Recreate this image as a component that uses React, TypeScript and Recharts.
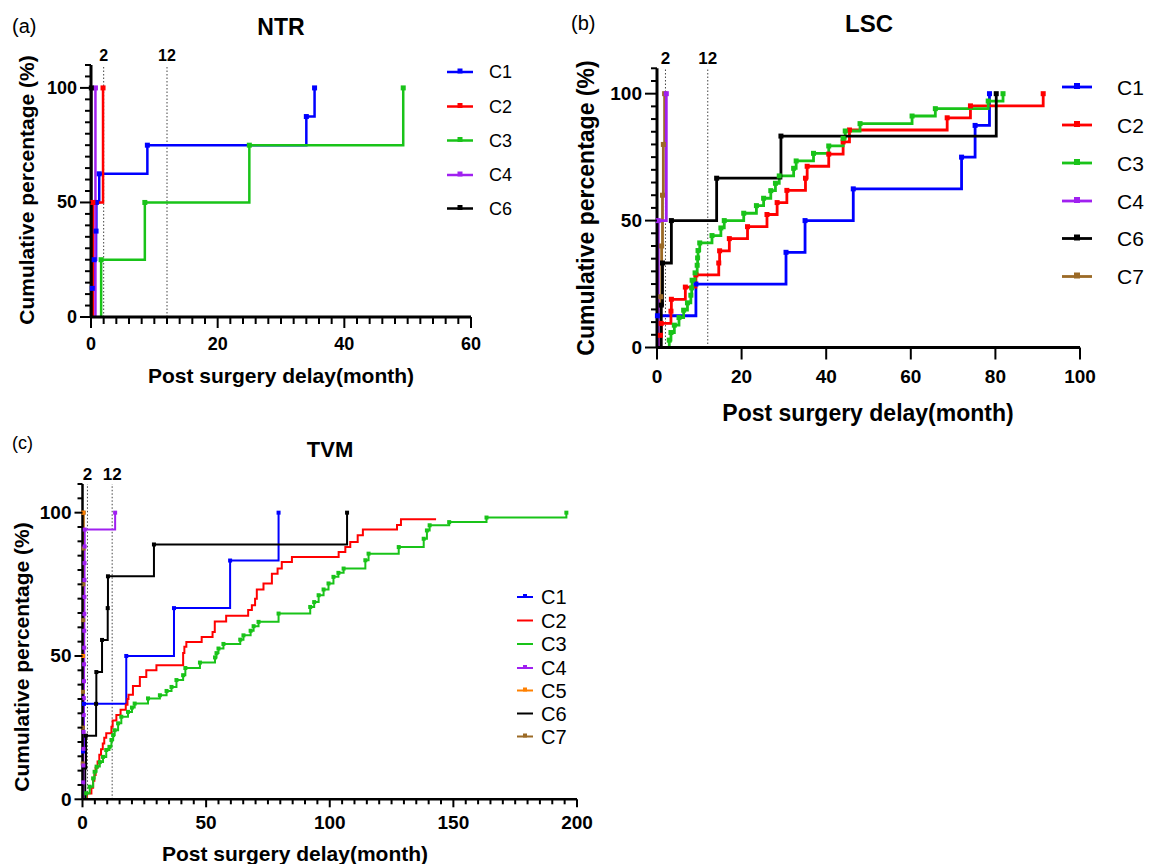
import React from "react";
import { LineChart, Line, XAxis, YAxis, ReferenceLine } from "recharts";

type Pt = [number, number];

const W = 1151;
const H = 864;
const FONT = "'Liberation Sans', Arial, Helvetica, sans-serif";

const BLUE = "#0000ff";
const RED = "#ff0000";
const GREEN = "#19c319";
const PURPLE = "#a020f0";
const ORANGE = "#ff8000";
const BLACK = "#000000";
const BROWN = "#9b6a26";

// (a) NTR  [month, cumulative %]
const ntrC1: Pt[] = [[0.2, 0], [0.2, 12.5], [0.5, 25], [0.8, 37.5], [0.85, 50], [1.3, 62.5], [8.9, 75], [34, 87.5], [35.3, 100]];
const ntrC2: Pt[] = [[0.3, 0], [0.3, 50], [1.9, 100]];
const ntrC3: Pt[] = [[1.6, 0], [1.6, 25], [8.5, 50], [25, 75], [49.3, 100]];
const ntrC4: Pt[] = [[0.7, 0], [0.7, 100]];
const ntrC6: Pt[] = [[0.05, 0], [0.05, 100]];

// (b) LSC
const lscC1: Pt[] = [[0.1, 0], [0.1, 12.5], [9.2, 25], [30.5, 37.5], [35, 50], [46.4, 62.5], [72, 75], [75.2, 87.5], [78.6, 100]];
const lscC2: Pt[] = [
  [0.8, 0], [0.8, 4.8], [1, 9.5], [3.3, 14.3], [3.4, 19], [6.7, 23.8], [9.2, 28.6], [14.6, 33.3], [14.8, 38.1],
  [17.1, 42.9], [21.4, 47.6], [26, 52.4], [28.4, 57.1], [30.7, 61.9], [35.1, 66.7], [35.5, 71.4], [40.6, 76.2],
  [44, 81], [45.5, 85.7], [68.6, 90.5], [74.1, 95.2], [91.3, 100],
];
const lscC3: Pt[] = [
  [2.9, 0], [2.9, 2.9], [3.3, 5.9], [4.1, 8.8], [5.2, 11.8], [6.3, 14.7], [7.2, 17.6], [8, 20.6], [8.2, 23.5],
  [8.3, 26.5], [9, 29.4], [9.5, 32.4], [9.6, 35.3], [9.7, 38.2], [10.1, 41.2], [13, 44.1], [15.1, 47.1], [15.9, 50],
  [20.5, 52.9], [23.5, 55.9], [25.2, 58.8], [26.9, 61.8], [28, 64.7], [28.9, 67.6], [32.3, 70.6], [32.9, 73.5],
  [37, 76.5], [40.6, 79.4], [44, 82.4], [44.5, 85.3], [48, 88.2], [60.3, 91.2], [65.8, 94.1], [78.3, 97.1], [81.8, 100],
];
const lscC4: Pt[] = [[0.3, 0], [0.3, 50], [2.2, 100]];
const lscC6: Pt[] = [[1, 0], [1, 16.7], [1.3, 33.3], [3.4, 50], [14.1, 66.7], [29.3, 83.3], [80.2, 100]];
const lscC7: Pt[] = [[0.9, 0], [0.9, 20], [1.1, 40], [1.3, 60], [1.5, 80], [1.8, 100]];

// (c) TVM
const tvmC1: Pt[] = [[0.2, 0], [0.2, 16.7], [0.6, 33.3], [17.7, 50], [37, 66.7], [59.7, 83.3], [79.3, 100]];
const tvmC2: Pt[] = [
  [1.8, 0], [1.8, 2], [3.6, 4], [4.3, 6.5], [4.8, 8.5], [5.3, 11], [6.1, 13.2], [6.8, 15.5], [7.5, 17.5], [8.2, 19.5],
  [8.8, 21.5], [9.6, 23], [11.7, 25.3], [12.2, 27.5], [13.7, 29.4], [15.4, 31.2], [17.5, 33], [18.2, 35], [18.6, 36.5],
  [20.4, 39.5], [23.2, 42.7], [25.8, 45], [29.9, 46.8], [40.7, 51], [41.2, 53.2], [42, 54.9], [48.2, 56.6],
  [52.6, 58.4], [53.5, 62], [58.1, 64], [67, 66], [68.5, 67.7], [69.8, 70], [70.5, 73.2], [73.2, 75.3], [76.6, 78.7],
  [78.9, 80.5], [80.6, 82.8], [84.7, 84.5], [103.6, 86.3], [106.3, 88], [108.3, 89.8], [111.3, 92.1], [113.4, 94.1],
  [127.2, 95.7], [128.8, 97.7], [143, 97.7],
];
const tvmC3: Pt[] = [
  [1.5, 0], [1.5, 2.1], [2.9, 4.4], [4.3, 7.3], [4.9, 9.6], [5.7, 11.4], [7, 13], [8.3, 14.8], [9.6, 17.2],
  [10.9, 18.3], [11.7, 20.7], [12.4, 22.4], [13, 24.1], [14.4, 26.5], [15.7, 28.8], [18.4, 30.5], [20, 32],
  [21.1, 33.4], [26.5, 35.2], [31.3, 36.3], [34, 37.8], [36, 39.2], [38, 41.6], [40.7, 43.3], [41.6, 45.8],
  [47.5, 47.7], [53.6, 49.5], [54.2, 51], [55, 52.6], [57, 54.2], [63.8, 55.7], [65.1, 57.2], [68, 58.8],
  [69.2, 60.4], [71.2, 61.9], [79.3, 64.8], [92.1, 67.1], [93.7, 68.8], [95.5, 71.2], [97.5, 73.2], [99.5, 75.3],
  [101.5, 77.6], [103.5, 79], [105.6, 80.5], [114.4, 83.4], [115.7, 85.7], [127.9, 88], [138, 90.9], [139.3, 93.8],
  [140.4, 95.6], [148.3, 96.7], [163.4, 98.3], [195.7, 100],
];
const tvmC4: Pt[] = [
  [0.3, 0], [0.3, 5.9], [0.35, 11.8], [0.4, 17.6], [0.45, 23.5], [0.5, 29.4], [0.55, 35.3], [0.6, 41.2], [0.65, 47.1],
  [0.7, 52.9], [0.72, 58.8], [0.75, 64.7], [0.78, 70.6], [0.8, 76.5], [0.83, 82.4], [0.86, 88.2], [0.9, 94.1], [13.2, 100],
];
const tvmC5: Pt[] = [[0.2, 0], [0.2, 50], [0.3, 100]];
const tvmC6: Pt[] = [[1.1, 0], [1.1, 11.1], [1.4, 22.2], [5.5, 33.3], [5.6, 44.4], [7.9, 55.6], [10.2, 66.7], [10.3, 77.8], [28.9, 88.9], [107, 100]];
const tvmC7: Pt[] = [[0.1, 0], [0.1, 12.5], [0.15, 25], [0.2, 37.5], [0.25, 50], [0.3, 62.5], [0.35, 75], [0.4, 87.5], [0.5, 100]];

const yMajor = [0, 50, 100];
const refMonths = [2, 12];

type Series = { name: string; color: string; pts: Pt[]; marker: boolean };

const range = (a: number, b: number, s: number) => {
  const out: number[] = [];
  for (let v = a; v <= b + 1e-9; v += s) out.push(Math.round(v * 1000) / 1000);
  return out;
};
const rows = (pts: Pt[]) => pts.map(([x, y]) => ({ x, y }));

const squareDot = (color: string, size: number) => (p: any) => {
  if (p.index === 0 || p.cx == null) return <g key={`d${p.index}`} />;
  return <rect key={`d${p.index}`} x={p.cx - size / 2} y={p.cy - size / 2} width={size} height={size} fill={color} />;
};

const xTick = (majors: number[], fs: number, majorLen: number, minorLen: number, off: number) => (p: any) => {
  const v = p.payload.value;
  const big = majors.includes(v);
  return (
    <g>
      <line x1={p.x} x2={p.x} y1={p.y} y2={p.y + (big ? majorLen : minorLen)} stroke="#000" strokeWidth={2} />
      {big && (
        <text x={p.x} y={p.y + off} textAnchor="middle" dominantBaseline="central" fontSize={fs} fontWeight="bold" fill="#000" fontFamily={FONT}>
          {v}
        </text>
      )}
    </g>
  );
};

const yTick = (majors: number[], fs: number, majorLen: number, minorLen: number, off: number) => (p: any) => {
  const v = p.payload.value;
  const big = majors.includes(v);
  return (
    <g>
      <line x1={p.x} x2={p.x - (big ? majorLen : minorLen)} y1={p.y} y2={p.y} stroke="#000" strokeWidth={2} />
      {big && (
        <text x={p.x - off} y={p.y} textAnchor="end" dominantBaseline="central" fontSize={fs} fontWeight="bold" fill="#000" fontFamily={FONT}>
          {v}
        </text>
      )}
    </g>
  );
};

type PanelCfg = {
  x0: number; x1: number; y0: number; yTop: number;
  xMax: number; xTicks: number[]; xMajor: number[];
  tickFs: number; refFs: number;
  xLen: [number, number]; yLen: [number, number];
  xOff: number; yOff: number;
  lineW: number; mark: number; axisW: number;
  series: Series[];
};

function Panel({ c }: { c: PanelCfg }) {
  const yw = 40;
  const xh = 30;
  const margin = { left: c.x0 - yw, right: W - c.x1, top: c.yTop, bottom: H - c.y0 - xh };
  return (
    <div style={{ position: "absolute", left: 0, top: 0 }}>
      <LineChart width={W} height={H} margin={margin}>
        <XAxis
          dataKey="x" type="number" domain={[0, c.xMax]} ticks={c.xTicks} interval={0} height={xh}
          tickSize={0} tickMargin={0} tickLine={false} axisLine={{ stroke: "#000", strokeWidth: c.axisW }}
          tick={xTick(c.xMajor, c.tickFs, c.xLen[0], c.xLen[1], c.xOff)}
        />
        <YAxis
          type="number" domain={[0, 110]} ticks={range(0, 110, 5)} interval={0} width={yw}
          tickSize={0} tickMargin={0} tickLine={false} axisLine={{ stroke: "#000", strokeWidth: c.axisW }}
          tick={yTick(yMajor, c.tickFs, c.yLen[0], c.yLen[1], c.yOff)}
        />
        {refMonths.map((m) => (
          <ReferenceLine
            key={m} x={m} stroke="#444" strokeWidth={1} strokeDasharray="1.5 2"
            label={{ value: String(m), position: "top", offset: 4, fill: "#000", fontSize: c.refFs, fontWeight: "bold", fontFamily: FONT }}
          />
        ))}
        {c.series.map((s) => (
          <Line
            key={s.name} name={s.name} data={rows(s.pts)} dataKey="y" type="stepAfter"
            stroke={s.color} strokeWidth={c.lineW} dot={s.marker ? squareDot(s.color, c.mark) : false}
            activeDot={false} isAnimationActive={false}
          />
        ))}
      </LineChart>
    </div>
  );
}

const panelA: PanelCfg = {
  x0: 91, x1: 471, y0: 317, yTop: 65, xMax: 60, xTicks: range(0, 60, 2), xMajor: [0, 20, 40, 60],
  tickFs: 18, refFs: 16, xLen: [11, 7], yLen: [11, 6], xOff: 27, yOff: 14, lineW: 2.5, mark: 5, axisW: 3,
  series: [
    { name: "C1", color: BLUE, pts: ntrC1, marker: true },
    { name: "C2", color: RED, pts: ntrC2, marker: true },
    { name: "C3", color: GREEN, pts: ntrC3, marker: true },
    { name: "C4", color: PURPLE, pts: ntrC4, marker: true },
    { name: "C6", color: BLACK, pts: ntrC6, marker: true },
  ],
};

const panelB: PanelCfg = {
  x0: 657, x1: 1080, y0: 347.5, yTop: 68.3, xMax: 100, xTicks: [0, 20, 40, 60, 80, 100], xMajor: [0, 20, 40, 60, 80, 100],
  tickFs: 19, refFs: 17, xLen: [12, 12], yLen: [12, 6], xOff: 29, yOff: 15, lineW: 2.8, mark: 5, axisW: 3,
  series: [
    { name: "C1", color: BLUE, pts: lscC1, marker: true },
    { name: "C2", color: RED, pts: lscC2, marker: true },
    { name: "C3", color: GREEN, pts: lscC3, marker: true },
    { name: "C7", color: BROWN, pts: lscC7, marker: true },
    { name: "C4", color: PURPLE, pts: lscC4, marker: true },
    { name: "C6", color: BLACK, pts: lscC6, marker: true },
  ],
};

const panelC: PanelCfg = {
  x0: 82.5, x1: 577, y0: 799.3, yTop: 484, xMax: 200, xTicks: range(0, 200, 5), xMajor: [0, 50, 100, 150, 200],
  tickFs: 19, refFs: 17, xLen: [8, 5], yLen: [8, 5], xOff: 23, yOff: 11, lineW: 2, mark: 4, axisW: 2.5,
  series: [
    { name: "C1", color: BLUE, pts: tvmC1, marker: true },
    { name: "C2", color: RED, pts: tvmC2, marker: false },
    { name: "C3", color: GREEN, pts: tvmC3, marker: true },
    { name: "C6", color: BLACK, pts: tvmC6, marker: true },
    { name: "C7", color: BROWN, pts: tvmC7, marker: true },
    { name: "C5", color: ORANGE, pts: tvmC5, marker: true },
    { name: "C4", color: PURPLE, pts: tvmC4, marker: true },
  ],
};

type LegendItem = { name: string; color: string; marker: boolean };
const legA: LegendItem[] = [
  { name: "C1", color: BLUE, marker: true }, { name: "C2", color: RED, marker: true }, { name: "C3", color: GREEN, marker: true },
  { name: "C4", color: PURPLE, marker: true }, { name: "C6", color: BLACK, marker: true },
];
const legB: LegendItem[] = [
  { name: "C1", color: BLUE, marker: true }, { name: "C2", color: RED, marker: true }, { name: "C3", color: GREEN, marker: true },
  { name: "C4", color: PURPLE, marker: true }, { name: "C6", color: BLACK, marker: true }, { name: "C7", color: BROWN, marker: true },
];
const legC: LegendItem[] = [
  { name: "C1", color: BLUE, marker: true }, { name: "C2", color: RED, marker: false }, { name: "C3", color: GREEN, marker: false },
  { name: "C4", color: PURPLE, marker: true }, { name: "C5", color: ORANGE, marker: true }, { name: "C6", color: BLACK, marker: false },
  { name: "C7", color: BROWN, marker: true },
];

function LegendBlock({ items, x1, x2, tx, ys, fs, mark, lw }: { items: LegendItem[]; x1: number; x2: number; tx: number; ys: number[]; fs: number; mark: number; lw: number }) {
  return (
    <g>
      {items.map((it, i) => (
        <g key={it.name}>
          <line x1={x1} x2={x2} y1={ys[i]} y2={ys[i]} stroke={it.color} strokeWidth={lw} />
          {it.marker && <rect x={(x1 + x2) / 2 - mark / 2} y={ys[i] - mark / 2 - 1} width={mark} height={mark} fill={it.color} />}
          <text x={tx} y={ys[i]} dominantBaseline="central" fontSize={fs} fill="#000" fontFamily={FONT}>{it.name}</text>
        </g>
      ))}
    </g>
  );
}

const Txt = ({ x, y, fs, bold = true, rot = 0, left = false, children }: any) => (
  <div
    style={{
      position: "absolute", left: x, top: y, fontSize: fs, fontWeight: bold ? 700 : 400, lineHeight: 1, whiteSpace: "nowrap",
      transform: `translate(${left ? "0" : "-50%"}, -50%) rotate(${rot}deg)`, fontFamily: FONT, color: "#000",
    }}
  >
    {children}
  </div>
);

export default function App() {
  return (
    <div style={{ position: "absolute", left: 0, top: 0, width: W, height: H, background: "#fff", fontFamily: FONT, overflow: "hidden" }}>
      <Panel c={panelA} />
      <Panel c={panelB} />
      <Panel c={panelC} />
      <svg width={W} height={H} style={{ position: "absolute", left: 0, top: 0 }}>
        <LegendBlock items={legA} x1={447} x2={473} tx={489} ys={[72, 106.5, 140.5, 175, 208.5]} fs={18} mark={5} lw={2.5} />
        <LegendBlock items={legB} x1={1062} x2={1092} tx={1117} ys={[87, 125, 163, 201, 238.5, 276.5]} fs={21} mark={6} lw={2.8} />
        <LegendBlock items={legC} x1={517} x2={533} tx={541} ys={[597, 620.5, 644, 668, 690.5, 713.5, 736.5]} fs={20} mark={4} lw={2} />
      </svg>

      <Txt x={12} y={26} fs={20} bold={false} left>(a)</Txt>
      <Txt x={281} y={27} fs={23}>NTR</Txt>
      <Txt x={281} y={375} fs={21}>Post surgery delay(month)</Txt>
      <div style={{ position: "absolute", left: 26, top: 190 }}>
        <Txt x={0} y={0} fs={21} rot={-90}>Cumulative percentage (%)</Txt>
      </div>

      <Txt x={571} y={23} fs={20} bold={false} left>(b)</Txt>
      <Txt x={869} y={24} fs={24}>LSC</Txt>
      <Txt x={868} y={413} fs={23}>Post surgery delay(month)</Txt>
      <div style={{ position: "absolute", left: 586, top: 208 }}>
        <Txt x={0} y={0} fs={23} rot={-90}>Cumulative percentage (%)</Txt>
      </div>

      <Txt x={12} y={443} fs={18} bold={false} left>(c)</Txt>
      <Txt x={330} y={450} fs={22}>TVM</Txt>
      <Txt x={295} y={853} fs={21}>Post surgery delay(month)</Txt>
      <div style={{ position: "absolute", left: 21, top: 657 }}>
        <Txt x={0} y={0} fs={21} rot={-90}>Cumulative percentage (%)</Txt>
      </div>
    </div>
  );
}
